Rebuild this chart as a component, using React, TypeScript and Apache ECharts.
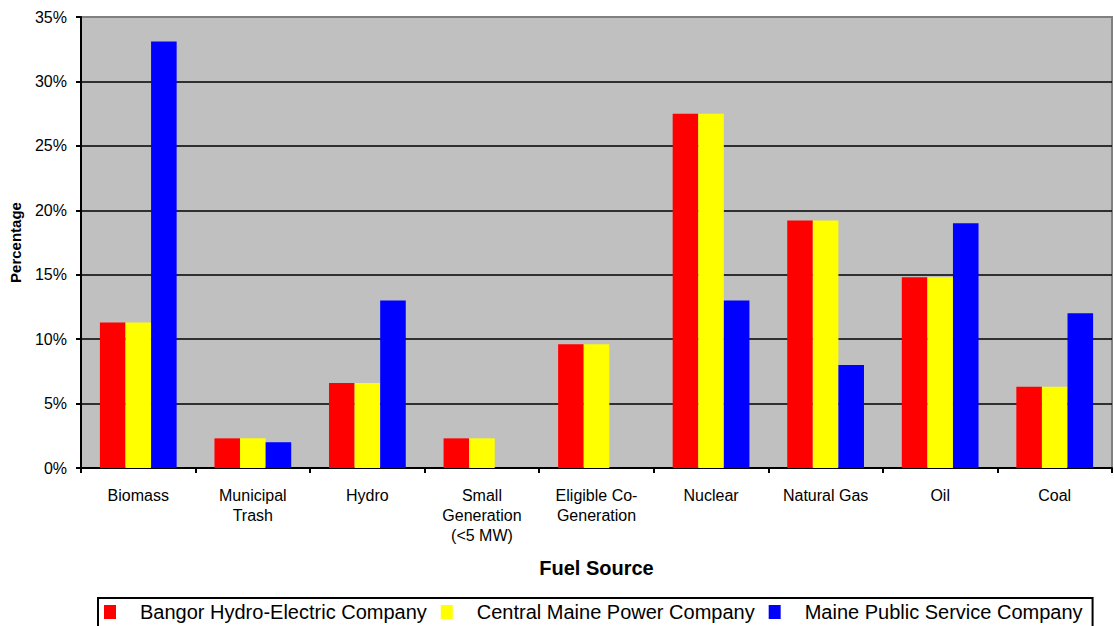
import React, { useEffect, useRef } from "react";
import * as echarts from "echarts";

const categories = [
  "Biomass",
  "Municipal\nTrash",
  "Hydro",
  "Small\nGeneration\n(<5 MW)",
  "Eligible Co-\nGeneration",
  "Nuclear",
  "Natural Gas",
  "Oil",
  "Coal",
];
const seriesNames = [
  "Bangor Hydro-Electric Company",
  "Central Maine Power Company",
  "Maine Public Service Company",
];
const bangorValues = [11.3, 2.3, 6.6, 2.3, 9.6, 27.5, 19.2, 14.8, 6.3];
const centralValues = [11.3, 2.3, 6.6, 2.3, 9.6, 27.5, 19.2, 14.8, 6.3];
const maineValues: (number | null)[] = [33.1, 2.0, 13.0, null, null, 13.0, 8.0, 19.0, 12.0];
const yTicks = { min: 0, max: 35, interval: 5 };
const colors = ["#FF0000", "#FFFF00", "#0000FF"];

export default function App() {
  const ref = useRef<HTMLDivElement>(null);
  useEffect(() => {
    document.body.style.margin = "0";
    const chart = echarts.init(ref.current!, null, { renderer: "svg" });
    const font = "Arial, 'Liberation Sans', sans-serif";
    const data = [bangorValues, centralValues, maineValues];
    chart.setOption({
      animation: false,
      textStyle: { fontFamily: font },
      grid: {
        left: 80,
        right: 2,
        top: 17,
        bottom: 158,
        show: true,
        backgroundColor: "#C0C0C0",
        borderColor: "#808080",
        borderWidth: 2,
      },
      legend: {
        data: seriesNames,
        left: 98,
        top: 598,
        orient: "horizontal",
        borderColor: "#000",
        borderWidth: 2,
        padding: [4, 10, 6, 6],
        itemWidth: 12,
        itemHeight: 14,
        itemGap: 14,
        icon: "rect",
        textStyle: {
          fontFamily: font,
          fontSize: 20,
          color: "#000",
          padding: [0, 0, 0, 19],
        },
      },
      xAxis: {
        type: "category",
        data: categories,
        name: "Fuel Source",
        nameLocation: "middle",
        nameGap: 90,
        nameTextStyle: { fontFamily: font, fontSize: 20, fontWeight: "bold", color: "#000" },
        axisLine: { lineStyle: { color: "#000", width: 2 } },
        axisTick: { show: true, length: 5, lineStyle: { color: "#000", width: 2 } },
        axisLabel: {
          interval: 0,
          margin: 17,
          fontFamily: font,
          fontSize: 16,
          color: "#000",
          lineHeight: 20,
          verticalAlign: "top",
        },
      },
      yAxis: {
        type: "value",
        min: yTicks.min,
        max: yTicks.max,
        interval: yTicks.interval,
        name: "Percentage",
        nameLocation: "middle",
        nameGap: 58,
        nameRotate: 90,
        nameTextStyle: { fontFamily: font, fontSize: 15, fontWeight: "bold", color: "#000" },
        axisLine: { show: true, lineStyle: { color: "#000", width: 2 } },
        axisTick: { show: true, length: 5, lineStyle: { color: "#000", width: 2 } },
        axisLabel: {
          formatter: "{value}%",
          margin: 14,
          fontFamily: font,
          fontSize: 16,
          color: "#000",
        },
        splitLine: {
          show: true,
          lineStyle: {
            color: ["#000", "#000", "#000", "#000", "#000", "#000", "#000", "#808080"],
            width: 1.5,
          },
        },
      },
      series: seriesNames.map((name, i) => ({
        name,
        type: "bar",
        data: data[i],
        barGap: "0%",
        barCategoryGap: "33%",
        itemStyle: { color: colors[i] },
      })),
    });
    return () => chart.dispose();
  }, []);
  return <div ref={ref} style={{ width: 1114, height: 626 }} />;
}
